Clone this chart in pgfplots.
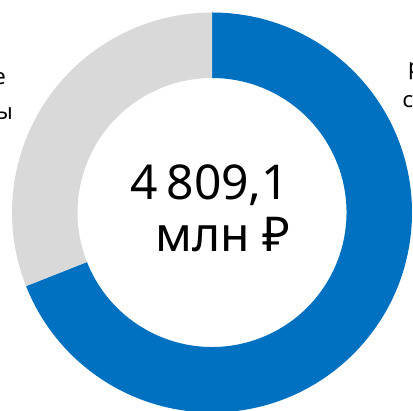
\documentclass[border=0pt]{standalone}
\usepackage{fontspec}
\setmainfont{Noto Sans}
\usepackage{pgfplots}
\pgfplotsset{compat=1.18}
\usepackage{pgfplotstable}
\definecolor{donutblue}{RGB}{0,112,192}
\definecolor{donutgray}{RGB}{217,217,217}

% share of each segment, percent
\pgfplotstableread{
part share
blue 69.0
gray 31.0
}\sharetable

\begin{document}
\begin{tikzpicture}
\begin{axis}[
    width=413pt, height=411pt,
    scale only axis,
    xmin=0, xmax=413, ymin=0, ymax=411,
    axis lines=none,
    clip=true,
    anchor=south west, at={(0pt,0pt)},
]
\pgfplotstablegetelem{0}{share}\of\sharetable
\pgfmathsetmacro{\blueshare}{\pgfplotsretval}
\pgfmathsetmacro{\cut}{90-3.6*\blueshare}
\begin{scope}[shift={(axis cs:212,198.5)}]
  \fill[donutblue] (90:200pt) arc[start angle=90, end angle=\cut, radius=200pt]
    -- (\cut:134.5pt) arc[start angle=\cut, end angle=90, radius=134.5pt] -- cycle;
  \fill[donutgray] (\cut:200pt) arc[start angle=\cut, end angle=-270, radius=200pt]
    -- (-270:134.5pt) arc[start angle=-270, end angle=\cut, radius=134.5pt] -- cycle;
\end{scope}
\node[anchor=base west, inner sep=0, font=\fontsize{48}{58}\selectfont]
  at (axis cs:130,211) {4\hspace{9pt}809,1};
\node[anchor=base west, inner sep=0, font=\fontsize{48}{58}\selectfont]
  at (axis cs:155,159) {млн ₽};
\node[anchor=base east, inner sep=0, font=\fontsize{22}{26}\selectfont]
  at (axis cs:6,326) {Прочие};
\node[anchor=base east, inner sep=0, font=\fontsize{22}{26}\selectfont]
  at (axis cs:13,291) {расходы};
\node[anchor=base west, inner sep=0, font=\fontsize{22}{26}\selectfont]
  at (axis cs:408,336) {расходы};
\node[anchor=base west, inner sep=0, font=\fontsize{22}{26}\selectfont]
  at (axis cs:402.5,303) {субсидии};
\end{axis}
\pgfresetboundingbox
\useasboundingbox (0pt,0pt) rectangle (413pt,411pt);
\end{tikzpicture}
\end{document}
